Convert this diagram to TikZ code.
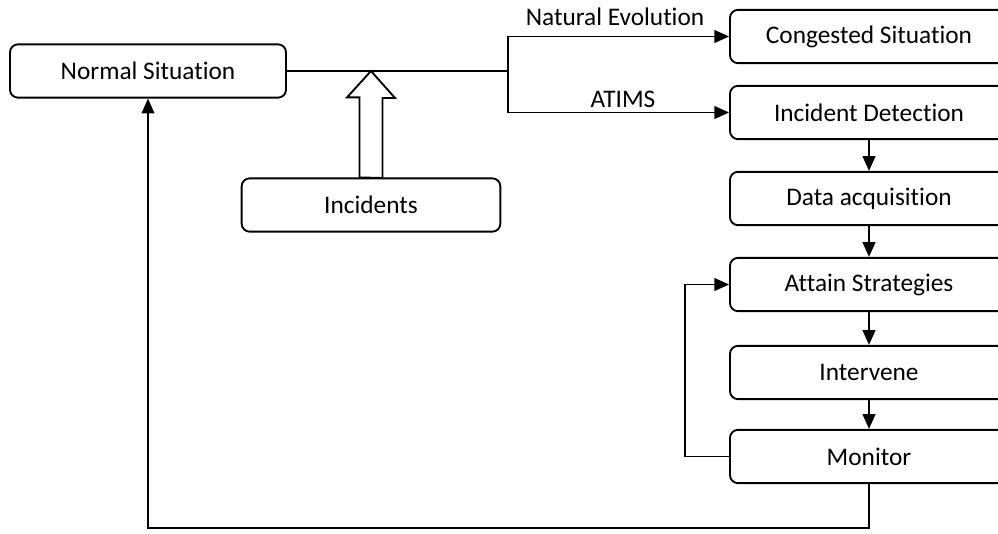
\documentclass[tikz,border=0pt]{standalone}
\usepackage{fontspec}
\setmainfont{Carlito}[Ligatures={NoCommon,NoContextual}]
\usetikzlibrary{arrows.meta}
\begin{document}
\begin{tikzpicture}[x=0.75pt,y=-0.75pt,
  box/.style={draw,line width=1.4pt,rounded corners=6pt,inner sep=0pt,
    minimum height=40pt,font=\fontsize{19}{23}\selectfont},
  rbox/.style={box,minimum width=208.5pt},
  conn/.style={line width=1.4pt},
  arr/.style={conn,-{Triangle[length=11pt,width=9.5pt]}},
  lbl/.style={font=\fontsize{19}{23}\selectfont,inner sep=0pt,anchor=base}]
\useasboundingbox (0,0) rectangle (998,533);
\clip (0,0) rectangle (998,533);
\fill[white] (0,0) rectangle (998,533);
% nodes
\node[box,minimum width=207pt] (ns) at (148,71) {Normal Situation};
\node[box,minimum width=194pt] (inc) at (371,205) {Incidents};
\node[rbox] (cs) at (869,36.5) {Congested Situation};
\node[rbox] (id) at (869,112.5) {Incident Detection};
\node[rbox] (da) at (869,198.5) {Data acquisition};
\node[rbox] (as) at (869,284.5) {Attain Strategies};
\node[rbox] (iv) at (869,372.5) {Intervene};
\node[rbox] (mo) at (869,456.5) {Monitor};
% coordinates
\coordinate (j) at (508,71);
\coordinate (lp) at (685,456.5);
\coordinate (bot) at (148,528);
% connectors
\draw[conn] (ns.east) -- (j);
\draw[arr] (j) |- (cs.west);
\draw[arr] (j) |- (id.west);
\draw[arr] (id.south) -- (da.north);
\draw[arr] (da.south) -- (as.north);
\draw[arr] (as.south) -- (iv.north);
\draw[arr] (iv.south) -- (mo.north);
\draw[arr] (mo.west) -- (lp) |- (as.west);
\draw[arr] (mo.south) |- (bot) -- (ns.south);
% hollow arrow
\draw[conn,fill=white,line join=miter]
  (inc.north) ++(-11.5,0) -- ++(0,-80) -- ++(-12.5,0) -- (inc.north |- j)
  -- ++(24,27) -- ++(-12.5,0) -- ++(0,80) -- cycle;
% labels
\node[lbl] (lne) at (615,25) {Natural Evolution};
\node[lbl] (lat) at (623,107) {ATIMS};
\end{tikzpicture}
\end{document}
